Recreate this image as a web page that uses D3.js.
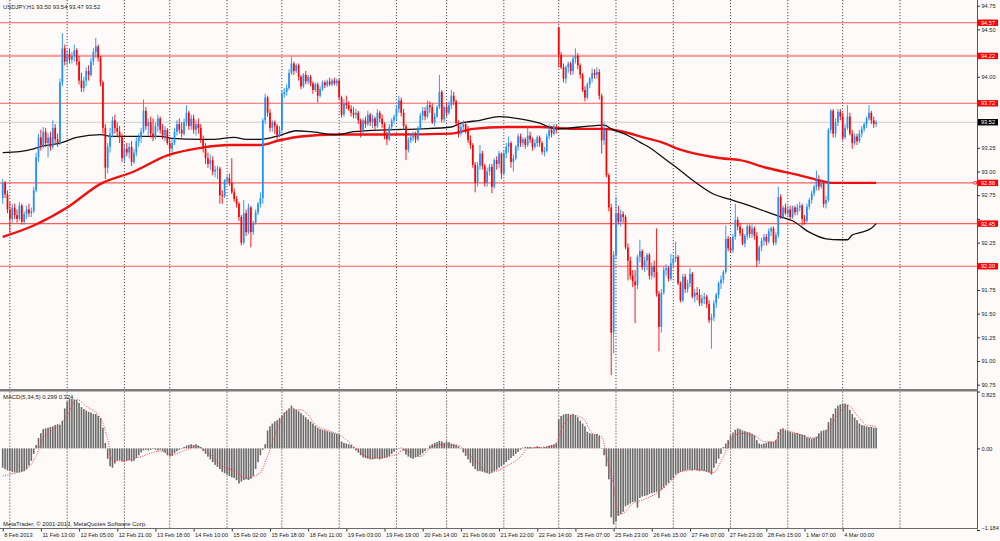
<!DOCTYPE html>
<html>
<head>
<meta charset="utf-8">
<script src="https://cdn.jsdelivr.net/npm/d3@7/dist/d3.min.js"></script>
<style>
  html, body { margin: 0; padding: 0; background: #fdfaf9; }
  svg { display: block; }
</style>
</head>
<body>
<svg id="chart" width="1000" height="541"></svg>
<script>
// ---- data ----
const symbolTitle = 'USDJPY,H1  93.50 93.54 93.47 93.52';
const macdTitle = 'MACD(5,34,5) 0.299 0.324';
const copyright = 'MetaTrader, \u00a9 2001-2013, MetaQuotes Software Corp.';

const timeLabels = ['8 Feb 2013', '11 Feb 13:00', '12 Feb 05:00', '12 Feb 21:00', '13 Feb 18:00',
  '14 Feb 10:00', '15 Feb 02:00', '15 Feb 18:00', '18 Feb 11:00', '19 Feb 03:00', '19 Feb 19:00',
  '20 Feb 14:00', '21 Feb 06:00', '21 Feb 22:00', '22 Feb 14:00', '25 Feb 07:00', '25 Feb 23:00',
  '26 Feb 15:00', '27 Feb 07:00', '27 Feb 23:00', '28 Feb 15:00', '1 Mar 07:00', '4 Mar 00:00'];
const labelBars = [0, 16, 32, 48, 64, 80, 96, 112, 128, 144, 160, 176, 192, 208, 224, 240, 256,
  272, 288, 304, 320, 336, 352];
// bars where a new day starts (dotted grid)
const dayStartBars = [3, 27, 51, 70, 94, 117, 141, 165, 186, 210, 233, 257, 281, 305, 329, 352, 376];

const priceTicks = [94.75, 94.5, 94.25, 94.0, 93.75, 93.5, 93.25, 93.0, 92.75, 92.5, 92.25, 92.0,
  91.75, 91.5, 91.25, 91.0, 90.75];
const levelPrices = [94.57, 94.22, 93.72, 92.88, 92.45, 92.00];
const lastPrice = 93.52;
const macdTicks = [0.825, 0, -1.184];

const opens = [
  92.72,92.88,92.76,92.60,92.50,92.62,92.54,92.50,92.64,92.47,
  92.55,92.60,92.56,92.58,92.80,93.15,93.36,93.28,93.42,93.30,
  93.36,93.26,93.46,93.34,93.30,93.94,94.30,94.16,94.24,94.18,
  94.22,94.28,94.16,93.96,93.88,93.96,94.06,94.02,94.16,94.26,
  94.32,94.20,93.94,93.46,93.04,93.26,93.40,93.54,93.46,93.42,
  93.36,93.14,93.24,93.20,93.26,93.10,93.20,93.32,93.36,93.42,
  93.64,93.48,93.52,93.40,93.36,93.48,93.56,93.44,93.38,93.44,
  93.30,93.24,93.30,93.42,93.50,93.44,93.40,93.52,93.62,93.48,
  93.56,93.44,93.50,93.46,93.34,93.24,93.14,93.08,93.12,93.00,
  93.02,93.03,92.75,92.74,92.91,92.93,92.88,92.78,92.71,92.66,
  92.52,92.25,92.56,92.36,92.62,92.36,92.46,92.57,92.66,92.72,
  93.54,93.78,93.62,93.46,93.52,93.48,93.38,93.44,93.82,93.84,
  93.88,94.04,94.14,94.06,94.12,94.00,93.90,94.02,93.95,94.00,
  93.93,93.86,93.92,93.80,93.87,93.94,93.91,93.95,93.92,93.96,
  93.93,93.96,93.78,93.60,93.72,93.70,93.66,93.62,93.60,93.62,
  93.54,93.44,93.54,93.50,93.60,93.52,93.56,93.48,93.62,93.56,
  93.50,93.38,93.34,93.47,93.54,93.58,93.66,93.75,93.62,93.48,
  93.23,93.33,93.36,93.38,93.34,93.46,93.59,93.64,93.58,93.70,
  93.68,93.52,93.58,93.68,93.84,93.55,93.68,93.62,93.70,93.80,
  93.74,93.51,93.40,93.47,93.50,93.44,93.33,93.28,93.07,92.88,
  93.06,93.19,93.06,92.88,93.00,93.05,92.84,93.12,93.08,93.19,
  92.98,93.19,93.26,93.30,93.10,93.14,93.26,93.37,93.30,93.34,
  93.28,93.38,93.34,93.26,93.30,93.36,93.30,93.21,93.22,93.37,
  93.44,93.40,93.47,94.52,94.23,94.10,93.98,94.10,94.14,94.06,
  94.19,94.22,94.12,94.02,93.86,93.78,93.92,93.98,94.04,94.02,
  94.05,93.80,93.33,93.44,92.96,92.62,91.30,92.12,92.56,92.47,
  92.55,92.52,92.20,92.06,91.90,91.84,91.80,92.10,92.16,91.99,
  92.06,92.12,91.90,92.00,91.94,91.71,91.36,91.72,91.96,91.98,
  91.87,92.03,92.08,92.10,91.82,91.64,91.89,91.76,91.82,91.92,
  91.68,91.72,91.70,91.61,91.66,91.68,91.60,91.43,91.46,91.61,
  91.70,91.82,91.86,91.94,92.29,92.19,92.17,92.31,92.49,92.42,
  92.35,92.24,92.32,92.42,92.34,92.40,92.32,92.06,92.20,92.27,
  92.31,92.26,92.37,92.40,92.25,92.33,92.73,92.52,92.62,92.56,
  92.60,92.52,92.62,92.57,92.62,92.64,92.50,92.48,92.63,92.70,
  92.77,92.84,92.91,92.84,92.88,92.66,92.70,93.44,93.64,93.40,
  93.52,93.63,93.58,93.36,93.46,93.58,93.40,93.30,93.37,93.32,
  93.40,93.45,93.50,93.56,93.62,93.54,93.50];

const highs = [
  92.92,92.90,92.80,92.68,92.66,92.66,92.60,92.68,92.66,92.58,
  92.64,92.66,92.62,92.84,93.20,93.40,93.44,93.47,93.46,93.40,
  93.42,93.54,93.50,93.40,93.98,94.46,94.34,94.28,94.30,94.26,
  94.34,94.30,94.22,94.04,94.00,94.10,94.12,94.20,94.30,94.41,
  94.34,94.22,93.96,93.50,93.30,93.46,93.58,93.60,93.52,93.48,
  93.40,93.28,93.30,93.30,93.32,93.24,93.36,93.40,93.46,93.76,
  93.68,93.56,93.58,93.56,93.52,93.60,93.58,93.50,93.48,93.46,
  93.36,93.34,93.46,93.54,93.56,93.52,93.56,93.70,93.64,93.60,
  93.60,93.54,93.56,93.50,93.38,93.30,93.20,93.18,93.16,93.06,
  93.06,93.05,92.80,92.92,92.96,92.98,93.14,92.82,92.74,92.68,
  92.54,92.70,92.60,92.66,92.64,92.48,92.60,92.68,92.78,93.56,
  93.82,93.80,93.66,93.54,93.54,93.50,93.48,93.86,93.88,93.92,
  94.08,94.21,94.16,94.14,94.14,94.02,94.04,94.06,94.02,94.02,
  93.95,93.94,93.94,93.90,93.96,93.96,93.97,93.99,93.98,93.99,
  93.98,93.98,93.80,93.76,93.80,93.74,93.70,93.68,93.66,93.64,
  93.56,93.56,93.58,93.64,93.62,93.60,93.58,93.66,93.64,93.60,
  93.52,93.42,93.50,93.56,93.60,93.70,93.80,93.78,93.66,93.50,
  93.36,93.40,93.42,93.42,93.48,93.62,93.68,93.68,93.75,93.74,
  93.72,93.62,93.70,94.02,93.86,93.70,93.72,93.74,93.86,93.84,
  93.76,93.54,93.50,93.54,93.52,93.48,93.38,93.30,93.10,93.10,
  93.28,93.22,93.08,93.04,93.08,93.08,93.14,93.16,93.22,93.20,
  93.22,93.30,93.37,93.32,93.18,93.28,93.40,93.40,93.36,93.36,
  93.47,93.42,93.36,93.34,93.38,93.38,93.32,93.26,93.40,93.50,
  93.48,93.50,93.50,94.53,94.26,94.14,94.12,94.16,94.16,94.22,
  94.30,94.25,94.14,94.04,93.90,93.94,94.00,94.09,94.08,94.10,
  94.08,93.82,93.52,93.46,92.98,92.66,92.16,92.73,92.64,92.60,
  92.58,92.54,92.24,92.10,91.96,91.96,92.12,92.28,92.18,92.10,
  92.14,92.14,92.04,92.06,92.40,91.74,91.76,92.00,92.02,92.00,
  92.13,92.12,92.26,92.12,91.84,91.92,91.92,91.86,91.98,91.94,
  91.76,91.78,91.76,91.70,91.72,91.70,91.64,91.50,91.64,91.72,
  91.84,91.90,91.96,92.43,92.32,92.30,92.34,92.66,92.52,92.46,
  92.40,92.34,92.44,92.44,92.44,92.42,92.36,92.22,92.30,92.34,
  92.34,92.40,92.42,92.42,92.36,92.84,92.76,92.64,92.66,92.64,
  92.64,92.64,92.64,92.66,92.68,92.66,92.54,92.66,92.72,92.80,
  92.86,93.01,92.96,92.92,92.90,92.74,93.46,93.66,93.66,93.56,
  93.66,93.66,93.62,93.50,93.70,93.62,93.44,93.40,93.40,93.44,
  93.48,93.52,93.58,93.70,93.64,93.58,93.54];

const lows = [
  92.66,92.72,92.56,92.35,92.46,92.50,92.46,92.48,92.44,92.44,
  92.50,92.52,92.52,92.56,92.78,93.10,93.22,93.24,93.26,93.15,
  93.22,93.24,93.30,93.26,93.28,93.90,94.12,94.12,94.14,94.14,
  94.16,94.12,93.92,93.84,93.84,93.90,93.96,94.00,94.12,94.20,
  94.16,93.90,93.40,92.92,92.98,93.20,93.36,93.40,93.36,93.30,
  93.10,93.10,93.16,93.14,93.06,93.08,93.16,93.26,93.30,93.40,
  93.44,93.38,93.36,93.32,93.34,93.42,93.40,93.34,93.32,93.28,
  93.19,93.20,93.28,93.38,93.40,93.36,93.38,93.48,93.44,93.44,
  93.40,93.38,93.40,93.30,93.20,93.08,93.04,93.02,92.96,92.94,
  92.92,92.66,92.66,92.72,92.86,92.85,92.76,92.68,92.62,92.48,
  92.22,92.23,92.32,92.34,92.20,92.33,92.44,92.54,92.62,92.66,
  93.50,93.58,93.42,93.42,93.40,93.34,93.36,93.42,93.78,93.80,
  93.86,94.02,94.02,94.04,93.96,93.87,93.88,93.92,93.92,93.90,
  93.82,93.84,93.73,93.78,93.85,93.88,93.89,93.90,93.90,93.91,
  93.90,93.76,93.57,93.58,93.66,93.64,93.58,93.56,93.56,93.50,
  93.36,93.40,93.46,93.48,93.48,93.46,93.44,93.46,93.52,93.46,
  93.34,93.28,93.32,93.44,93.50,93.54,93.62,93.58,93.44,93.12,
  93.20,93.30,93.32,93.30,93.32,93.44,93.54,93.54,93.56,93.62,
  93.50,93.48,93.56,93.66,93.52,93.52,93.58,93.60,93.66,93.70,
  93.48,93.36,93.38,93.42,93.40,93.30,93.24,93.04,92.78,92.84,
  93.02,93.02,92.84,92.84,92.96,92.77,92.82,93.02,93.04,92.92,
  92.96,93.14,93.20,93.04,93.00,93.12,93.22,93.26,93.26,93.24,
  93.26,93.30,93.22,93.24,93.26,93.26,93.18,93.16,93.20,93.34,
  93.36,93.38,93.40,94.10,94.08,93.94,93.93,94.04,94.02,94.02,
  94.14,94.08,93.98,93.84,93.74,93.76,93.88,93.94,93.98,93.98,
  93.76,93.19,93.28,92.94,92.58,90.85,91.08,92.08,92.44,92.42,
  92.46,92.18,91.85,91.86,91.78,91.40,91.76,92.04,91.96,91.94,
  91.96,91.86,91.86,91.88,91.68,91.10,91.30,91.70,91.90,91.84,
  91.85,92.00,92.04,91.80,91.62,91.62,91.72,91.72,91.78,91.66,
  91.62,91.64,91.58,91.58,91.60,91.56,91.40,91.13,91.42,91.56,
  91.66,91.76,91.82,91.92,92.16,92.14,92.14,92.28,92.38,92.32,
  92.22,92.20,92.28,92.30,92.30,92.28,91.99,92.02,92.16,92.22,
  92.22,92.24,92.32,92.22,92.22,92.30,92.50,92.50,92.54,92.52,
  92.48,92.50,92.54,92.54,92.58,92.43,92.44,92.46,92.60,92.66,
  92.74,92.80,92.80,92.82,92.62,92.61,92.68,93.40,93.36,93.36,
  93.48,93.54,93.33,93.34,93.44,93.38,93.24,93.28,93.28,93.30,
  93.36,93.42,93.46,93.54,93.50,93.46,93.47];

const closes = [
  92.88,92.76,92.60,92.50,92.62,92.54,92.50,92.64,92.47,92.55,
  92.60,92.56,92.58,92.80,93.15,93.36,93.28,93.42,93.30,93.36,
  93.26,93.46,93.34,93.30,93.94,94.30,94.16,94.24,94.18,94.22,
  94.28,94.16,93.96,93.88,93.96,94.06,94.02,94.16,94.26,94.32,
  94.20,93.94,93.46,93.04,93.26,93.40,93.54,93.46,93.42,93.36,
  93.14,93.24,93.20,93.26,93.10,93.20,93.32,93.36,93.42,93.64,
  93.48,93.52,93.40,93.36,93.48,93.56,93.44,93.38,93.44,93.30,
  93.24,93.30,93.42,93.50,93.44,93.40,93.52,93.62,93.48,93.56,
  93.44,93.50,93.46,93.34,93.24,93.14,93.08,93.12,93.00,93.02,
  93.03,92.75,92.74,92.91,92.93,92.88,92.78,92.71,92.66,92.52,
  92.25,92.56,92.36,92.62,92.36,92.46,92.57,92.66,92.72,93.54,
  93.78,93.62,93.46,93.52,93.48,93.38,93.44,93.82,93.84,93.88,
  94.04,94.14,94.06,94.12,94.00,93.90,94.02,93.95,94.00,93.93,
  93.86,93.92,93.80,93.87,93.94,93.91,93.95,93.92,93.96,93.93,
  93.96,93.78,93.60,93.72,93.70,93.66,93.62,93.60,93.62,93.54,
  93.44,93.54,93.50,93.60,93.52,93.56,93.48,93.62,93.56,93.50,
  93.38,93.34,93.47,93.54,93.58,93.66,93.75,93.62,93.48,93.23,
  93.33,93.36,93.38,93.34,93.46,93.59,93.64,93.58,93.70,93.68,
  93.52,93.58,93.68,93.84,93.55,93.68,93.62,93.70,93.80,93.74,
  93.51,93.40,93.47,93.50,93.44,93.33,93.28,93.07,92.88,93.06,
  93.19,93.06,92.88,93.00,93.05,92.84,93.12,93.08,93.19,92.98,
  93.19,93.26,93.30,93.10,93.14,93.26,93.37,93.30,93.34,93.28,
  93.38,93.34,93.26,93.30,93.36,93.30,93.21,93.22,93.37,93.44,
  93.40,93.47,93.44,94.23,94.10,93.98,94.10,94.14,94.06,94.19,
  94.22,94.12,94.02,93.86,93.78,93.92,93.98,94.04,94.02,94.05,
  93.80,93.33,93.44,92.96,92.62,91.30,92.12,92.56,92.47,92.55,
  92.52,92.20,92.06,91.90,91.84,91.80,92.10,92.16,91.99,92.06,
  92.12,91.90,92.00,91.94,91.71,91.36,91.72,91.96,91.98,91.87,
  92.03,92.08,92.10,91.82,91.64,91.89,91.76,91.82,91.92,91.68,
  91.72,91.70,91.61,91.66,91.68,91.60,91.43,91.46,91.61,91.70,
  91.82,91.86,91.94,92.29,92.19,92.17,92.31,92.49,92.42,92.35,
  92.24,92.32,92.42,92.34,92.40,92.32,92.06,92.20,92.27,92.31,
  92.26,92.37,92.40,92.25,92.33,92.73,92.52,92.62,92.56,92.60,
  92.52,92.62,92.57,92.62,92.64,92.50,92.48,92.63,92.70,92.77,
  92.84,92.91,92.84,92.88,92.66,92.70,93.44,93.64,93.40,93.52,
  93.63,93.58,93.36,93.46,93.58,93.40,93.30,93.37,93.32,93.40,
  93.45,93.50,93.56,93.62,93.54,93.50,93.52];

// MACD main (histogram)
const macdHist = [
  -0.28,-0.30,-0.32,-0.33,-0.34,-0.35,-0.35,-0.35,-0.34,-0.33,
  -0.30,-0.25,-0.18,-0.08,0.05,0.15,0.22,0.28,0.29,0.30,
  0.31,0.32,0.34,0.35,0.34,0.40,0.58,0.68,0.72,0.72,
  0.71,0.70,0.66,0.60,0.57,0.55,0.53,0.52,0.50,0.50,
  0.47,0.44,0.30,0.08,-0.15,-0.26,-0.28,-0.22,-0.18,-0.17,
  -0.19,-0.20,-0.18,-0.17,-0.19,-0.18,-0.14,-0.10,-0.06,-0.03,
  -0.02,-0.03,-0.02,-0.01,-0.02,-0.03,-0.02,-0.04,-0.06,-0.10,
  -0.12,-0.11,-0.07,-0.04,-0.02,0.00,0.02,0.04,0.05,0.06,
  0.05,0.06,0.04,0.02,-0.04,-0.08,-0.12,-0.16,-0.20,-0.24,
  -0.27,-0.30,-0.34,-0.36,-0.38,-0.40,-0.42,-0.43,-0.46,-0.51,
  -0.48,-0.46,-0.45,-0.46,-0.44,-0.40,-0.30,-0.20,-0.10,-0.02,
  0.06,0.26,0.32,0.36,0.39,0.41,0.44,0.48,0.52,0.55,
  0.58,0.62,0.58,0.56,0.54,0.51,0.48,0.45,0.42,0.39,
  0.36,0.33,0.30,0.28,0.27,0.26,0.25,0.24,0.23,0.22,
  0.21,0.20,0.10,0.08,0.07,0.06,0.05,0.02,-0.03,-0.06,
  -0.10,-0.13,-0.14,-0.15,-0.16,-0.16,-0.15,-0.15,-0.16,-0.15,
  -0.14,-0.13,-0.11,-0.08,-0.05,-0.02,0.00,0.01,-0.03,-0.09,
  -0.12,-0.14,-0.15,-0.13,-0.12,-0.10,-0.07,-0.04,0.00,0.04,
  0.06,0.08,0.09,0.11,0.10,0.08,0.10,0.09,0.07,0.06,
  0.05,0.03,0.00,-0.06,-0.11,-0.16,-0.21,-0.26,-0.30,-0.33,
  -0.33,-0.34,-0.35,-0.36,-0.37,-0.35,-0.33,-0.31,-0.28,-0.26,
  -0.23,-0.20,-0.17,-0.14,-0.11,-0.08,-0.05,-0.02,0.01,0.02,
  0.02,0.02,0.01,0.02,0.03,0.02,0.01,0.02,0.03,0.04,
  0.05,0.06,0.08,0.42,0.47,0.49,0.50,0.50,0.49,0.50,
  0.48,0.45,0.40,0.36,0.32,0.24,0.22,0.21,0.20,0.21,
  0.18,0.00,-0.10,-0.26,-0.45,-1.00,-1.10,-1.06,-0.98,-0.95,
  -0.92,-0.84,-0.82,-0.80,-0.78,-0.77,-0.86,-0.72,-0.70,-0.69,
  -0.68,-0.66,-0.65,-0.64,-0.63,-0.72,-0.60,-0.57,-0.53,-0.50,
  -0.46,-0.43,-0.38,-0.36,-0.34,-0.33,-0.32,-0.31,-0.31,-0.32,
  -0.31,-0.32,-0.33,-0.32,-0.33,-0.34,-0.35,-0.38,-0.28,-0.22,
  -0.15,-0.08,0.02,0.07,0.12,0.19,0.23,0.27,0.29,0.28,
  0.26,0.25,0.24,0.23,0.21,0.19,0.12,0.07,0.06,0.07,
  0.08,0.10,0.10,0.09,0.12,0.24,0.28,0.29,0.26,0.25,
  0.24,0.23,0.22,0.22,0.21,0.20,0.19,0.16,0.15,0.14,
  0.15,0.17,0.22,0.25,0.26,0.27,0.38,0.44,0.50,0.58,
  0.62,0.64,0.65,0.65,0.63,0.56,0.50,0.45,0.41,0.36,
  0.34,0.33,0.32,0.31,0.31,0.30,0.30];

// MACD signal line, read at these bars
const signalBars = [0,6,10,14,17,21,27,31,35,41,44,46,50,57,66,71,77,81,86,91,
  97,102,108,111,115,120,125,132,137,141,147,151,155,165,168,175,179,183,190,197,
  204,211,217,220,231,235,239,243,247,251,253,256,258,260,264,268,274,280,284,291,
  298,301,305,309,314,319,323,327,334,340,345,350,354,358,362,366];
const signalVals = [-0.40,-0.35,-0.30,-0.11,0.15,0.27,0.47,0.71,0.61,0.44,
  0.13,-0.18,-0.18,-0.13,-0.04,-0.09,-0.02,0.03,-0.06,-0.23,
  -0.33,-0.43,-0.35,-0.11,0.27,0.56,0.56,0.32,0.25,0.20,
  0.03,-0.09,-0.14,-0.09,-0.02,-0.12,0.00,0.05,0.05,-0.14,
  -0.35,-0.26,-0.12,0.00,0.03,0.34,0.48,0.44,0.22,0.17,
  -0.10,-0.53,-0.96,-0.94,-0.80,-0.75,-0.65,-0.48,-0.34,-0.31,
  -0.35,-0.19,0.10,0.22,0.20,0.10,0.09,0.27,0.20,0.15,
  0.24,0.48,0.63,0.48,0.34,0.32];

// moving averages, read at these bars
const maFastBars = [0,7,13,17,24,31,41,46,55,66,71,83,88,97,102,108,116,123,129,140,
  147,161,175,188,192,200,208,218,225,232,242,252,255,262,267,273,276,283,289,298,
  304,314,325,331,338,345,351,354,356,360,364,366];
const maFastVals = [93.20,93.21,93.24,93.27,93.30,93.36,93.39,93.37,93.37,93.37,
  93.35,93.34,93.34,93.36,93.34,93.34,93.38,93.43,93.42,93.39,
  93.42,93.44,93.45,93.47,93.51,93.54,93.58,93.55,93.51,93.45,
  93.47,93.49,93.45,93.38,93.31,93.22,93.16,93.03,92.91,92.76,
  92.71,92.63,92.53,92.48,92.36,92.29,92.28,92.28,92.33,92.36,
  92.40,92.45];
const maSlowBars = [0,13,27,41,55,69,83,95,108,116,125,140,161,188,197,211,225,239,252,260,
  270,276,284,301,309,320,334,343,347,366];
const maSlowVals = [92.31,92.43,92.62,92.87,93.00,93.17,93.25,93.28,93.28,93.33,
  93.37,93.39,93.39,93.40,93.45,93.47,93.47,93.45,93.45,93.42,
  93.35,93.31,93.23,93.14,93.12,93.04,92.96,92.90,92.88,92.88];

// ---- layout ----
const fontFam = '"Liberation Sans", Arial, sans-serif';
const fs = 5.6;
const plotRight = 977;
const mainBottom = 389;
const subTop = 391.5, subBottom = 530, frameBottom = 528.5;
const bullColor = '#1e90ff', bearColor = '#ff0000';

const svg = d3.select('#chart');

const x = d3.scaleLinear().domain([0, 352]).range([2.7, 842.7]);
const y = d3.scaleLinear().domain([90.75, 94.75]).range([384.7, 5.7]);
const yM = d3.scaleLinear().domain([-1.184, 0.825]).range([subBottom, subTop]);

svg.append('rect').attr('width', 1000).attr('height', 541).attr('fill', '#fdfaf9');

// dotted day grid, both panes
const grid = svg.append('g').attr('stroke', '#3a3a3a').attr('stroke-width', 0.9)
  .attr('stroke-dasharray', '1.2,1.8');
grid.selectAll('.gm').data(dayStartBars).join('line').attr('class', 'gm')
  .attr('x1', (d) => x(d)).attr('x2', (d) => x(d)).attr('y1', 0).attr('y2', mainBottom);
grid.selectAll('.gs').data(dayStartBars).join('line').attr('class', 'gs')
  .attr('x1', (d) => x(d)).attr('x2', (d) => x(d)).attr('y1', subTop).attr('y2', frameBottom);

// horizontal levels
const levels = svg.append('g');
levels.selectAll('line').data(levelPrices).join('line')
  .attr('x1', 0).attr('x2', plotRight)
  .attr('y1', (d) => y(d)).attr('y2', (d) => y(d))
  .attr('stroke', (d) => (d === 94.22 ? '#ff9b9b' : '#ff5c5c'))
  .attr('stroke-width', (d) => (d === 94.22 ? 2.2 : 1.1));
svg.append('line').attr('x1', 0).attr('x2', plotRight)
  .attr('y1', y(lastPrice)).attr('y2', y(lastPrice))
  .attr('stroke', '#cfcfcf').attr('stroke-width', 1);

// moving averages
const maLine = d3.line().curve(d3.curveMonotoneX);
svg.append('path')
  .attr('d', maLine(maSlowBars.map((b, i) => [x(b), y(maSlowVals[i])])))
  .attr('fill', 'none').attr('stroke', '#ee1111').attr('stroke-width', 2.4);
svg.append('path')
  .attr('d', maLine(maFastBars.map((b, i) => [x(b), y(maFastVals[i])])))
  .attr('fill', 'none').attr('stroke', '#111').attr('stroke-width', 1.3);

// candles
const bars = d3.range(closes.length);
const candles = svg.append('g');
const colorOf = (i) => (closes[i] >= opens[i] ? bullColor : bearColor);
candles.selectAll('line').data(bars).join('line')
  .attr('x1', (i) => x(i)).attr('x2', (i) => x(i))
  .attr('y1', (i) => y(highs[i])).attr('y2', (i) => y(lows[i]))
  .attr('stroke', colorOf).attr('stroke-width', 0.9);
candles.selectAll('rect').data(bars).join('rect')
  .attr('x', (i) => x(i) - 0.85).attr('width', 1.7)
  .attr('y', (i) => y(Math.max(opens[i], closes[i])))
  .attr('height', (i) => Math.max(0.8, Math.abs(y(opens[i]) - y(closes[i]))))
  .attr('fill', colorOf);

// MACD histogram
svg.append('g').selectAll('rect').data(bars).join('rect')
  .attr('x', (i) => x(i) - 0.8).attr('width', 1.6)
  .attr('y', (i) => Math.min(yM(0), yM(macdHist[i])))
  .attr('height', (i) => Math.max(0.5, Math.abs(yM(macdHist[i]) - yM(0))))
  .attr('fill', '#6a6a6a');
svg.append('path')
  .attr('d', maLine(signalBars.map((b, i) => [x(b), yM(signalVals[i])])))
  .attr('fill', 'none').attr('stroke', '#ff3b3b').attr('stroke-width', 1)
  .attr('stroke-dasharray', '1,1.4');

// frame
svg.append('line').attr('x1', plotRight + 0.5).attr('x2', plotRight + 0.5).attr('y1', 0).attr('y2', frameBottom + 1)
  .attr('stroke', '#555').attr('stroke-width', 1);
svg.append('rect').attr('x', 0).attr('y', mainBottom).attr('width', plotRight + 1).attr('height', 2.5)
  .attr('fill', '#7c7c7c');
svg.append('line').attr('x1', 0).attr('x2', plotRight + 1).attr('y1', frameBottom).attr('y2', frameBottom)
  .attr('stroke', '#6a6a6a').attr('stroke-width', 1.2);

// price axis; labels hidden behind a level tag are left out
const tagH = 6.4, tagW = 20;
const tagPrices = levelPrices.concat([lastPrice]);
const underTag = (p) => tagPrices.some((t) => Math.abs(y(t) - y(p)) < tagH);
const styleAxis = (g) => {
  g.attr('font-size', fs).attr('font-family', fontFam);
  g.select('.domain').remove();
  g.selectAll('line').attr('stroke', '#333');
  g.selectAll('text').attr('fill', '#222');
};
svg.append('g').attr('transform', `translate(${plotRight},0)`)
  .call(d3.axisRight(y).tickValues(priceTicks).tickSize(3).tickPadding(1.5)
    .tickFormat((d) => (underTag(d) ? '' : d3.format('.2f')(d))))
  .call(styleAxis);

// MACD axis
svg.append('g').attr('transform', `translate(${plotRight},0)`)
  .call(d3.axisRight(yM).tickValues(macdTicks).tickSize(3).tickPadding(1.5)
    .tickFormat((d) => (d === 0 ? '0.00' : d3.format('.3f')(d))))
  .call(styleAxis)
  .call((g) => g.selectAll('text').attr('dy', (d) => (d === 0.825 ? '0.95em' : d === -1.184 ? '-0.1em' : '0.32em')));

// time axis
svg.append('g').attr('transform', `translate(0,${frameBottom + 0.5})`)
  .call(d3.axisBottom(x).tickValues(labelBars).tickSize(2.5).tickPadding(1.8)
    .tickFormat((d, i) => timeLabels[i]))
  .call(styleAxis)
  .call((g) => g.selectAll('text').attr('text-anchor', 'start').attr('dx', 1));

// level tags on the price scale
const tags = svg.append('g').attr('font-family', fontFam).attr('font-size', fs);
const tagData = levelPrices.map((p) => ({ p, bg: '#ff0000' })).concat([{ p: lastPrice, bg: '#000' }]);
tags.selectAll('rect').data(tagData).join('rect')
  .attr('x', plotRight + 1).attr('y', (d) => y(d.p) - tagH / 2)
  .attr('width', tagW).attr('height', tagH).attr('fill', (d) => d.bg);
tags.selectAll('text').data(tagData).join('text')
  .attr('x', plotRight + 4).attr('y', (d) => y(d.p)).attr('dy', '0.35em')
  .attr('fill', '#fff').text((d) => d.p.toFixed(2));
// small marker of the 92.88 line
svg.append('rect').attr('x', plotRight - 3).attr('y', y(92.88) - 1.2).attr('width', 2.4).attr('height', 2.4)
  .attr('fill', '#fff').attr('stroke', '#ff0000').attr('stroke-width', 0.7);

// titles
const txt = svg.append('g').attr('font-family', fontFam).attr('font-size', 5.9).attr('fill', '#1a1a1a');
txt.append('text').attr('x', 3).attr('y', 8.5).text(symbolTitle);
txt.append('text').attr('x', 3).attr('y', 398.5).text(macdTitle);
txt.append('text').attr('x', 3).attr('y', 526).text(copyright);
</script>
</body>
</html>
